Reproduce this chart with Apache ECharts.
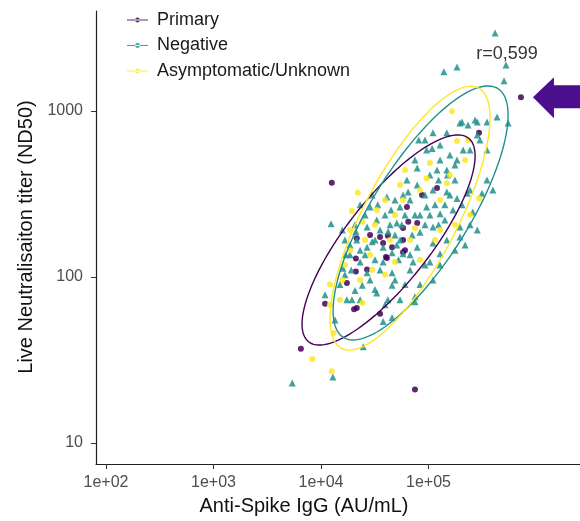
<!DOCTYPE html>
<html>
<head>
<meta charset="utf-8">
<script src="https://cdn.jsdelivr.net/npm/echarts@6/dist/echarts.min.js"></script>
<style>
  html, body { margin: 0; padding: 0; background: #fff; }
  #chart { width: 580px; height: 521px; }
</style>
</head>
<body>
<div id="chart"></div>
<script>
// tick values and labels
const xTicks = [100, 1000, 10000, 100000];
const xTickLabels = ['1e+02', '1e+03', '1e+04', '1e+05'];
const yTicks = [10, 100, 1000];
const yTickLabels = ['10', '100', '1000'];

const groupNames = ['Primary', 'Negative', 'Asymptomatic/Unknown'];
const groupColors = ['#440154', '#21908C', '#FDE725'];

// [Anti-Spike IgG, ND50]
const primary = [
  [724000, 1210], [12600, 370], [10900, 69], [6500, 37], [74800, 21],
  [20300, 64], [35400, 60], [21100, 129], [21100, 108], [26800, 111],
  [17400, 92], [40200, 132], [58000, 141], [21500, 171], [28600, 179],
  [35400, 174], [37800, 160], [45800, 151], [60400, 145], [58000, 167],
  [58000, 197], [64800, 215], [78500, 211], [41000, 130], [21500, 65],
  [295000, 738], [63000, 264], [120000, 344], [41800, 177], [87000, 312]
];

const negative = [
  [416000, 2950], [139000, 1720], [184000, 1840], [526000, 1890], [504000, 1520],
  [205000, 858], [271000, 883], [434000, 920], [550000, 846], [233000, 824],
  [350000, 858], [196000, 846], [284000, 858], [110000, 738], [148000, 738],
  [284000, 717], [128000, 624], [96000, 582], [210000, 582], [350000, 582],
  [78500, 453], [120000, 441], [148000, 441], [63000, 384], [78500, 358],
  [58000, 312], [110000, 334], [148000, 325], [184000, 297], [229000, 319],
  [350000, 384], [397000, 334], [315000, 319], [54300, 264], [96000, 264],
  [128000, 240], [169000, 253], [258000, 246], [284000, 192], [196000, 200],
  [50700, 211], [33000, 220], [28600, 264], [41000, 303], [23100, 272],
  [26800, 200], [21500, 167], [26800, 151], [37800, 151], [45800, 140],
  [58000, 138], [78500, 151], [110000, 160], [148000, 167], [196000, 174],
  [110000, 200], [83300, 186], [71800, 123], [103000, 123], [37800, 123],
  [23100, 123], [16000, 113], [26800, 106], [45800, 106], [12400, 209],
  [16700, 103], [17400, 73], [33000, 80], [45800, 89], [37800, 54],
  [24700, 38], [13500, 55], [110000, 96], [74800, 76], [92700, 118],
  [128000, 138], [12900, 25], [5400, 23], [20700, 83], [28600, 96],
  [54300, 73], [67300, 110], [45800, 57], [74800, 71], [31800, 167],
  [35400, 192], [43900, 206], [39400, 236], [48800, 179], [60400, 236],
  [67300, 291], [83300, 236], [92700, 206], [115000, 272], [142000, 220],
  [158000, 312], [176000, 384], [103000, 411], [74800, 507], [92700, 669],
  [158000, 543], [54300, 167], [67300, 136], [25700, 136], [31800, 127],
  [18600, 136], [20700, 206], [48800, 291], [29900, 312], [16700, 167],
  [128000, 118], [176000, 145], [219000, 156], [243000, 206], [15000, 90],
  [10900, 78], [23100, 73], [39400, 68], [60400, 90], [83300, 90],
  [18600, 156], [23100, 145], [29900, 163], [42100, 188], [50700, 156],
  [70500, 179], [35400, 110], [48800, 96], [24200, 89], [19400, 73],
  [124000, 206], [142000, 272], [205000, 272], [243000, 334], [176000, 473],
  [128000, 507], [108000, 595], [81000, 669],
  [15800, 192], [19100, 110], [25700, 236], [33700, 272], [44800, 253],
  [56400, 206], [74800, 236], [92700, 312], [124000, 384], [150000, 411],
  [184000, 507], [243000, 582], [301000, 669], [52600, 127], [31800, 84],
  [41800, 73], [21100, 188], [17000, 136], [103000, 236], [64600, 325]
];

const asymptomatic = [
  [165000, 996], [22000, 322], [33000, 253], [103000, 486], [184000, 660],
  [148000, 367], [295000, 297], [39400, 291], [58000, 291], [8300, 32],
  [12600, 27], [13100, 46], [24200, 70], [18600, 145], [16700, 118],
  [31800, 206], [48800, 236], [83300, 334], [128000, 291], [219000, 507],
  [23100, 96], [15000, 73], [48800, 123], [67300, 167], [28600, 136],
  [39400, 103], [176000, 206], [243000, 236], [18600, 192], [12100, 68],
  [83300, 127], [25700, 167], [128000, 192], [54300, 358], [19400, 250],
  [233000, 669], [96000, 393], [12100, 90],
  [24200, 215], [43900, 167], [74800, 197], [115000, 167], [29900, 110],
  [15800, 96], [158000, 411], [60400, 441]
];

// ellipse centre and spread (log10 half-extents, correlation), per group
const ellipseCenters = [[42500, 167], [84400, 243], [67300, 226]];
const ellipseSpread = [[0.805, 0.633, 0.80], [0.814, 0.765, 0.77], [0.744, 0.795, 0.76]];

// the flagged point and its label
const flagged = [724000, 1210];
const corrText = 'r=0,599';

const legendIcon = 'path://M0,2H22V3H0ZM8.5,2.5a2.5,2.5 0 1,0 5,0a2.5,2.5 0 1,0 -5,0Z';

const chart = echarts.init(document.getElementById('chart'));

function ellipseSeries(i) {
  return {
    name: groupNames[i],
    type: 'custom',
    z: 5,
    data: [ellipseCenters[i]],
    renderItem: function (params, api) {
      const s = ellipseSpread[i];
      const cx = Math.log10(api.value(0));
      const cy = Math.log10(api.value(1));
      const pts = [];
      for (let k = 0; k <= 120; k++) {
        const t = k / 120 * 2 * Math.PI;
        const lx = cx + s[0] * Math.cos(t);
        const ly = cy + s[1] * (s[2] * Math.cos(t) + Math.sqrt(1 - s[2] * s[2]) * Math.sin(t));
        pts.push(api.coord([Math.pow(10, lx), Math.pow(10, ly)]));
      }
      return {
        type: 'polyline',
        shape: { points: pts },
        style: { stroke: groupColors[i], fill: null, lineWidth: 1.4 }
      };
    }
  };
}

const pointData = [primary, negative, asymptomatic];
const pointSymbols = ['circle', 'triangle', 'circle'];
const pointSizes = [6, 7, 6];

const series = pointData.map((d, i) => ({
  name: groupNames[i],
  type: 'scatter',
  data: d,
  symbol: pointSymbols[i],
  symbolSize: pointSizes[i],
  itemStyle: { color: groupColors[i], opacity: 0.85 },
  z: 2
})).concat([0, 1, 2].map(ellipseSeries));

chart.setOption({
  animation: false,
  grid: { left: 96, right: 0, top: 11, bottom: 57 },
  legend: {
    orient: 'vertical',
    left: 122,
    top: 6,
    itemWidth: 21,
    itemHeight: 5,
    itemGap: 7.5,
    data: groupNames.map(n => ({ name: n, icon: legendIcon })),
    textStyle: { fontFamily: 'Liberation Sans', fontSize: 18, lineHeight: 18, color: '#1a1a1a', padding: [0, 0, 0, 4] }
  },
  xAxis: {
    type: 'log',
    min: 80.7,
    max: 2565000,
    splitLine: { show: false },
    axisLine: { lineStyle: { color: '#222', width: 1.2 } },
    axisTick: { customValues: xTicks, length: 5, lineStyle: { color: '#333' } },
    axisLabel: {
      customValues: xTicks,
      margin: 11,
      fontFamily: 'Liberation Sans',
      fontSize: 16,
      color: '#4D4D4D',
      formatter: v => xTickLabels[xTicks.findIndex(t => Math.abs(t - v) / t < 1e-6)]
    }
  },
  yAxis: {
    type: 'log',
    min: 7.47,
    max: 4000,
    splitLine: { show: false },
    axisLine: { lineStyle: { color: '#222', width: 1.2 } },
    axisTick: { customValues: yTicks, length: 5, lineStyle: { color: '#333' } },
    axisLabel: {
      customValues: yTicks,
      margin: 13,
      fontFamily: 'Liberation Sans',
      fontSize: 16,
      color: '#4D4D4D',
      formatter: v => yTickLabels[yTicks.findIndex(t => Math.abs(t - v) / t < 1e-6)]
    }
  },
  series: series
});

// arrow pointing at the flagged point, axis titles and r label
const p = chart.convertToPixel({ xAxisIndex: 0, yAxisIndex: 0 }, flagged);
const tx = p[0] + 12, ty = p[1];
chart.setOption({
  graphic: [
    {
      type: 'polygon',
      shape: { points: [[tx, ty], [tx + 21, ty - 20], [tx + 21, ty - 12], [tx + 60, ty - 12],
                        [tx + 60, ty + 11], [tx + 21, ty + 11], [tx + 21, ty + 21]] },
      style: { fill: '#4B0F8E' },
      z: 10
    },
    {
      type: 'text', x: 507, y: 54,
      style: { text: corrText, font: '18px "Liberation Sans"', fill: '#333', align: 'center', verticalAlign: 'middle' },
      z: 10
    },
    {
      type: 'text', x: 304, y: 506,
      style: { text: 'Anti-Spike IgG (AU/mL)', font: '20px "Liberation Sans"', fill: '#111', align: 'center', verticalAlign: 'middle' }
    },
    {
      type: 'text', x: 26, y: 237, rotation: Math.PI / 2,
      style: { text: 'Live Neutralisaiton titer (ND50)', font: '20px "Liberation Sans"', fill: '#111', align: 'center', verticalAlign: 'middle' }
    }
  ]
});
</script>
</body>
</html>
